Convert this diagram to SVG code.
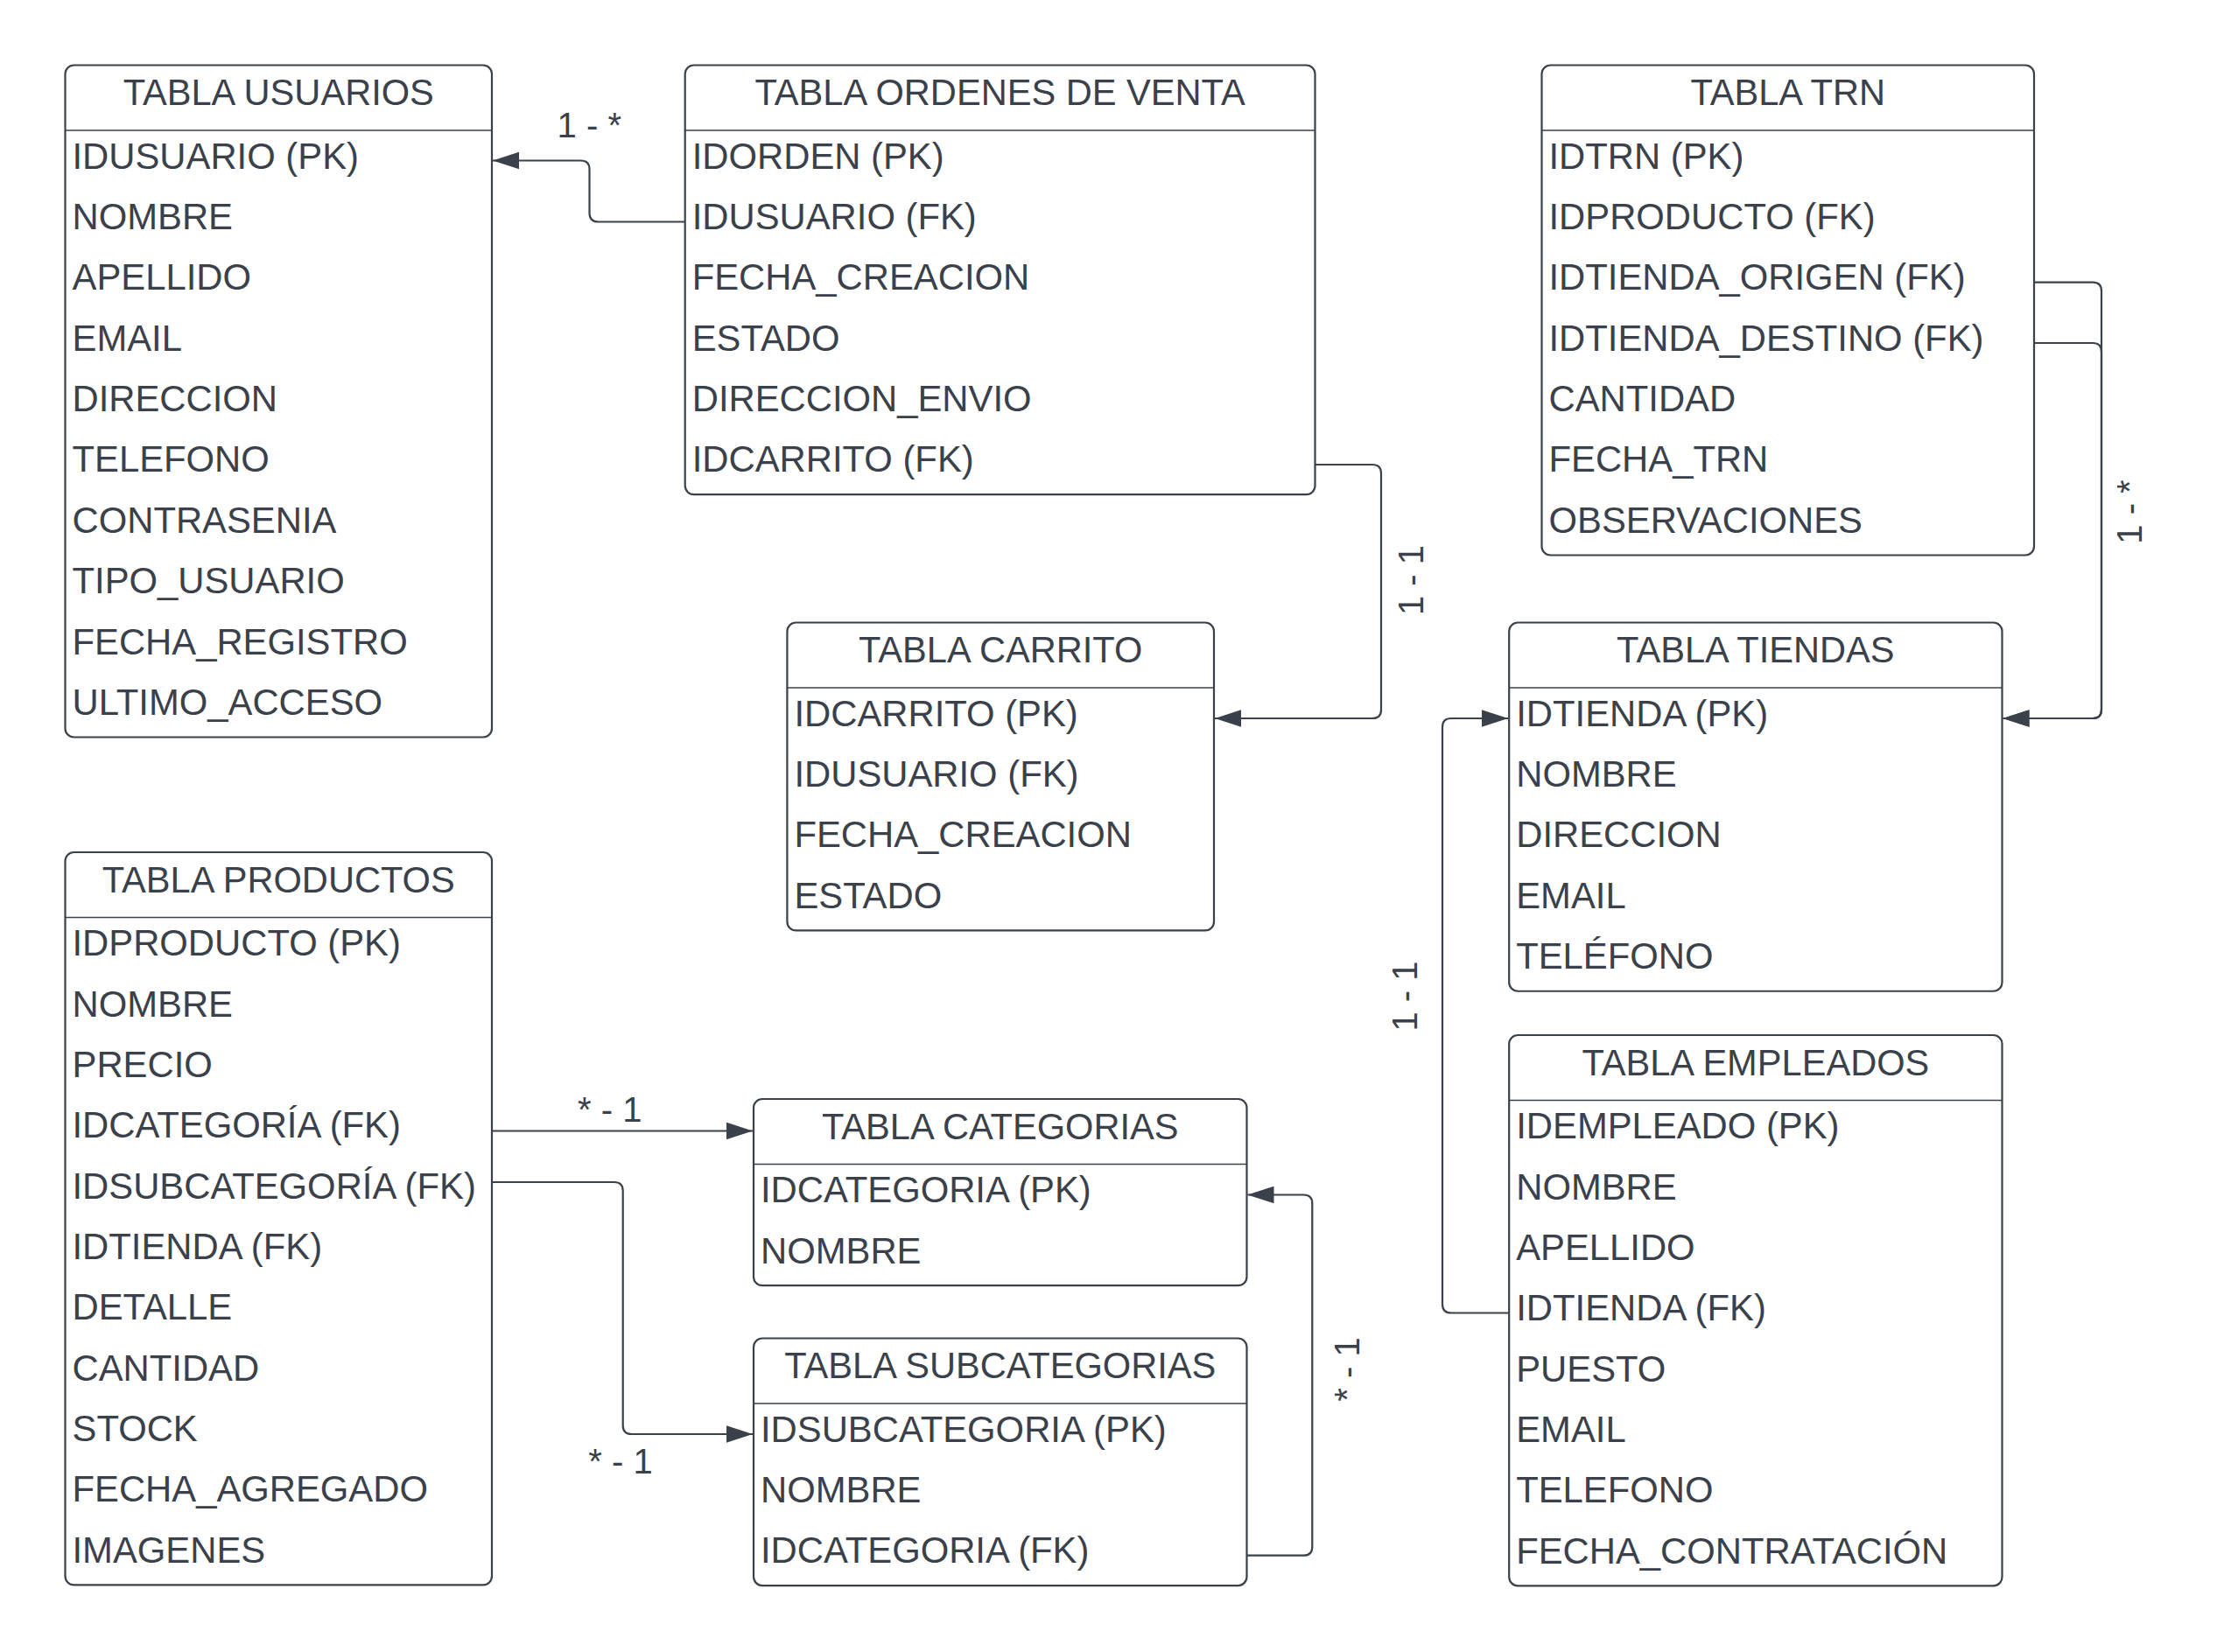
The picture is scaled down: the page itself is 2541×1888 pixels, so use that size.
<svg xmlns="http://www.w3.org/2000/svg" width="2541" height="1888" viewBox="0 0 2541 1888">
<style>
  .box { fill: #ffffff; stroke: #3a414a; stroke-width: 2.2; }
  .sep { stroke: #3a414a; stroke-width: 1.6; }
  .h { font-family: "Liberation Sans", Arial, sans-serif; font-size: 41.6px; fill: #3a414a; text-anchor: middle; }
  .r { font-family: "Liberation Sans", Arial, sans-serif; font-size: 41.8px; fill: #3a414a; }
  .lbl { font-family: "Liberation Sans", Arial, sans-serif; font-size: 40px; fill: #3a414a; text-anchor: middle; }
  .c { fill: none; stroke: #3a414a; stroke-width: 2.2; }
</style>
<defs>
  <marker id="arrow" markerUnits="userSpaceOnUse" markerWidth="30" markerHeight="20" viewBox="0 0 29 19" refX="29" refY="9.5" orient="auto">
    <path d="M0,0 L29,9.5 L0,19 Z" fill="#3a414a"/>
  </marker>
</defs>
<rect width="2541" height="1888" fill="#ffffff"/>

<g id="connectors">
  <path class="c" marker-end="url(#arrow)" d="M782.7,253.5 H683.5 Q673.5,253.5 673.5,243.5 V193.5 Q673.5,183.5 663.5,183.5 H563"/>
  <path class="c" marker-end="url(#arrow)" d="M1502.5,531 H1568 Q1578,531 1578,541 V811 Q1578,821 1568,821 H1388"/>
  <path class="c" marker-end="url(#arrow)" d="M2324,322.7 H2391 Q2401,322.7 2401,332.7 V811 Q2401,821 2391,821 H2288.5"/>
  <path class="c" marker-end="url(#arrow)" d="M2324,392 H2391 Q2401,392 2401,402 V811 Q2401,821 2391,821 H2288.5"/>
  <path class="c" marker-end="url(#arrow)" d="M1724.2,1500.5 H1658 Q1648,1500.5 1648,1490.5 V831 Q1648,821 1658,821 H1723"/>
  <path class="c" marker-end="url(#arrow)" d="M562,1292.5 H860"/>
  <path class="c" marker-end="url(#arrow)" d="M562,1351 H701.7 Q711.7,1351 711.7,1361 V1629 Q711.7,1639 721.7,1639 H860"/>
  <path class="c" marker-end="url(#arrow)" d="M1424.5,1777.7 H1489.3 Q1499.3,1777.7 1499.3,1767.7 V1375.5 Q1499.3,1365.5 1489.3,1365.5 H1425.5"/>
  <text class="lbl" x="673.3" y="157.3">1 - *</text>
  <text class="lbl" transform="translate(1626,663) rotate(-90)">1 - 1</text>
  <text class="lbl" transform="translate(2447,585) rotate(-90)">1 - *</text>
  <text class="lbl" transform="translate(1619,1138.5) rotate(-90)">1 - 1</text>
  <text class="lbl" x="696.7" y="1282.3">* - 1</text>
  <text class="lbl" x="709" y="1683.5">* - 1</text>
  <text class="lbl" transform="translate(1553,1565) rotate(-90)">* - 1</text>
</g>

<g id="tabla-usuarios" transform="translate(74.5,74.5)">
  <rect class="box" width="487.5" height="768" rx="10"/>
  <line class="sep" x1="0" y1="74.5" x2="487.5" y2="74.5"/>
  <text class="h" x="243.75" y="45.5">TABLA USUARIOS</text>
  <text class="r" x="8" y="118.2">IDUSUARIO (PK)</text>
  <text class="r" x="8" y="187.55">NOMBRE</text>
  <text class="r" x="8" y="256.9">APELLIDO</text>
  <text class="r" x="8" y="326.25">EMAIL</text>
  <text class="r" x="8" y="395.6">DIRECCION</text>
  <text class="r" x="8" y="464.95">TELEFONO</text>
  <text class="r" x="8" y="534.3">CONTRASENIA</text>
  <text class="r" x="8" y="603.65">TIPO_USUARIO</text>
  <text class="r" x="8" y="673">FECHA_REGISTRO</text>
  <text class="r" x="8" y="742.35">ULTIMO_ACCESO</text>
</g>

<g id="tabla-ordenes-de-venta" transform="translate(782.7,74.5)">
  <rect class="box" width="719.8" height="490.6" rx="10"/>
  <line class="sep" x1="0" y1="74.5" x2="719.8" y2="74.5"/>
  <text class="h" x="359.9" y="45.5">TABLA ORDENES DE VENTA</text>
  <text class="r" x="8" y="118.2">IDORDEN (PK)</text>
  <text class="r" x="8" y="187.55">IDUSUARIO (FK)</text>
  <text class="r" x="8" y="256.9">FECHA_CREACION</text>
  <text class="r" x="8" y="326.25">ESTADO</text>
  <text class="r" x="8" y="395.6">DIRECCION_ENVIO</text>
  <text class="r" x="8" y="464.95">IDCARRITO (FK)</text>
</g>

<g id="tabla-trn" transform="translate(1761.5,74.5)">
  <rect class="box" width="562.5" height="560" rx="10"/>
  <line class="sep" x1="0" y1="74.5" x2="562.5" y2="74.5"/>
  <text class="h" x="281.25" y="45.5">TABLA TRN</text>
  <text class="r" x="8" y="118.2">IDTRN (PK)</text>
  <text class="r" x="8" y="187.55">IDPRODUCTO (FK)</text>
  <text class="r" x="8" y="256.9">IDTIENDA_ORIGEN (FK)</text>
  <text class="r" x="8" y="326.25">IDTIENDA_DESTINO (FK)</text>
  <text class="r" x="8" y="395.6">CANTIDAD</text>
  <text class="r" x="8" y="464.95">FECHA_TRN</text>
  <text class="r" x="8" y="534.3">OBSERVACIONES</text>
</g>

<g id="tabla-carrito" transform="translate(899.4,711.5)">
  <rect class="box" width="487.6" height="351.9" rx="10"/>
  <line class="sep" x1="0" y1="74.5" x2="487.6" y2="74.5"/>
  <text class="h" x="243.8" y="45.5">TABLA CARRITO</text>
  <text class="r" x="8" y="118.2">IDCARRITO (PK)</text>
  <text class="r" x="8" y="187.55">IDUSUARIO (FK)</text>
  <text class="r" x="8" y="256.9">FECHA_CREACION</text>
  <text class="r" x="8" y="326.25">ESTADO</text>
</g>

<g id="tabla-tiendas" transform="translate(1724.2,711.5)">
  <rect class="box" width="563.3" height="421.25" rx="10"/>
  <line class="sep" x1="0" y1="74.5" x2="563.3" y2="74.5"/>
  <text class="h" x="281.65" y="45.5">TABLA TIENDAS</text>
  <text class="r" x="8" y="118.2">IDTIENDA (PK)</text>
  <text class="r" x="8" y="187.55">NOMBRE</text>
  <text class="r" x="8" y="256.9">DIRECCION</text>
  <text class="r" x="8" y="326.25">EMAIL</text>
  <text class="r" x="8" y="395.6">TELÉFONO</text>
</g>

<g id="tabla-productos" transform="translate(74.5,974)">
  <rect class="box" width="487.5" height="837.35" rx="10"/>
  <line class="sep" x1="0" y1="74.5" x2="487.5" y2="74.5"/>
  <text class="h" x="243.75" y="45.5">TABLA PRODUCTOS</text>
  <text class="r" x="8" y="118.2">IDPRODUCTO (PK)</text>
  <text class="r" x="8" y="187.55">NOMBRE</text>
  <text class="r" x="8" y="256.9">PRECIO</text>
  <text class="r" x="8" y="326.25">IDCATEGORÍA (FK)</text>
  <text class="r" x="8" y="395.6">IDSUBCATEGORÍA (FK)</text>
  <text class="r" x="8" y="464.95">IDTIENDA (FK)</text>
  <text class="r" x="8" y="534.3">DETALLE</text>
  <text class="r" x="8" y="603.65">CANTIDAD</text>
  <text class="r" x="8" y="673">STOCK</text>
  <text class="r" x="8" y="742.35">FECHA_AGREGADO</text>
  <text class="r" x="8" y="811.7">IMAGENES</text>
</g>

<g id="tabla-categorias" transform="translate(861,1256)">
  <rect class="box" width="563.5" height="213.2" rx="10"/>
  <line class="sep" x1="0" y1="74.5" x2="563.5" y2="74.5"/>
  <text class="h" x="281.75" y="45.5">TABLA CATEGORIAS</text>
  <text class="r" x="8" y="118.2">IDCATEGORIA (PK)</text>
  <text class="r" x="8" y="187.55">NOMBRE</text>
</g>

<g id="tabla-subcategorias" transform="translate(861,1529.5)">
  <rect class="box" width="563.5" height="282.55" rx="10"/>
  <line class="sep" x1="0" y1="74.5" x2="563.5" y2="74.5"/>
  <text class="h" x="281.75" y="45.5">TABLA SUBCATEGORIAS</text>
  <text class="r" x="8" y="118.2">IDSUBCATEGORIA (PK)</text>
  <text class="r" x="8" y="187.55">NOMBRE</text>
  <text class="r" x="8" y="256.9">IDCATEGORIA (FK)</text>
</g>

<g id="tabla-empleados" transform="translate(1724.2,1183)">
  <rect class="box" width="563.3" height="629.3" rx="10"/>
  <line class="sep" x1="0" y1="74.5" x2="563.3" y2="74.5"/>
  <text class="h" x="281.65" y="45.5">TABLA EMPLEADOS</text>
  <text class="r" x="8" y="118.2">IDEMPLEADO (PK)</text>
  <text class="r" x="8" y="187.55">NOMBRE</text>
  <text class="r" x="8" y="256.9">APELLIDO</text>
  <text class="r" x="8" y="326.25">IDTIENDA (FK)</text>
  <text class="r" x="8" y="395.6">PUESTO</text>
  <text class="r" x="8" y="464.95">EMAIL</text>
  <text class="r" x="8" y="534.3">TELEFONO</text>
  <text class="r" x="8" y="603.65">FECHA_CONTRATACIÓN</text>
</g>
</svg>
